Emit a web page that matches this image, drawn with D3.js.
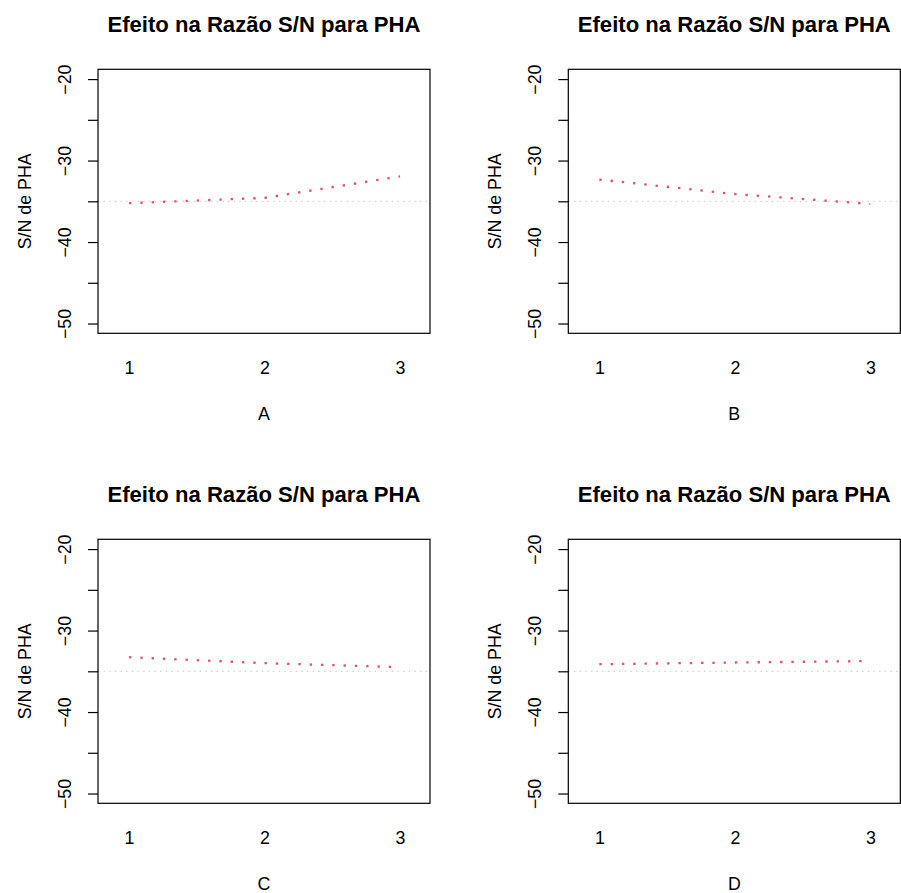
<!DOCTYPE html>
<html>
<head>
<meta charset="utf-8">
<script src="https://cdn.jsdelivr.net/npm/d3@7"></script>
<style>
  html, body { margin: 0; padding: 0; background: #fff; }
  svg { display: block; }
  text { font-family: "Liberation Sans", Arial, Helvetica, sans-serif; fill: #000; }
</style>
</head>
<body>
<svg id="chart" width="901" height="893"></svg>
<script>
// ---- data ----
const panelTitle = "Efeito na Razão S/N para PHA";
const yLabel = "S/N de PHA";
const factors = ["A", "B", "C", "D"];
const levels = [1, 2, 3];
const seriesA = [-35.23, -34.58, -31.95];
const seriesB = [-32.33, -34.11, -35.32];
const seriesC = [-33.27, -34.00, -34.49];
const seriesD = [-34.13, -33.92, -33.74];
const refLine = -35.0;
const yTicks = [-50, -45, -40, -35, -30, -25, -20];
const yTickLabels = ["-50", "", "-40", "", "-30", "", "-20"];
const ylim = [-50, -20];

const allSeries = [seriesA, seriesB, seriesC, seriesD];

// ---- layout ----
const svg = d3.select("#chart");
const panelW = 332, panelH = 264;
const originX = [98, 568.3];
const originY = [69.3, 539.3];
const yPad = (ylim[1] - ylim[0]) * 0.04;
const fs = 17.8, fsTitle = 22.1;

factors.forEach((f, i) => {
  const col = i % 2, row = Math.floor(i / 2);
  const left = originX[col], top = originY[row];
  const g = svg.append("g").attr("transform", `translate(${left},${top})`);

  const x = d3.scaleLinear().domain([0.771, 3.221]).range([0, panelW]);
  const y = d3.scaleLinear().domain([ylim[0] - yPad, ylim[1] + yPad]).range([panelH, 0]);

  // reference line
  g.append("line")
    .attr("x1", 0).attr("x2", panelW)
    .attr("y1", y(refLine)).attr("y2", y(refLine))
    .attr("stroke", "#c4c4c4").attr("stroke-width", 1)
    .attr("stroke-dasharray", "1.4 4.25");

  // series line
  const vals = allSeries[i];
  const line = d3.line().x((d, k) => x(levels[k])).y(d => y(d));
  g.append("path")
    .attr("d", line(vals))
    .attr("fill", "none")
    .attr("stroke", "#DF536B")
    .attr("stroke-width", 2.3)
    .attr("stroke-dasharray", "2.4 8.9");

  // box
  g.append("rect")
    .attr("x", 0).attr("y", 0).attr("width", panelW).attr("height", panelH)
    .attr("fill", "none").attr("stroke", "#000").attr("stroke-width", 1.2);

  // y axis
  const yAxis = d3.axisLeft(y).tickValues(yTicks).tickSize(10)
    .tickFormat((d, k) => yTickLabels[k].replace("-", "\u2212"));
  const ya = g.append("g").call(yAxis);
  ya.select(".domain").remove();
  ya.selectAll(".tick line").attr("stroke", "#000").attr("stroke-width", 1.2);
  ya.selectAll(".tick text")
    .attr("font-size", fs)
    .attr("x", null).attr("dy", null)
    .attr("text-anchor", "middle")
    .attr("transform", "translate(-27,0) rotate(-90)")
    .attr("y", 0);

  // x tick labels (no tick marks)
  const xAxis = d3.axisBottom(x).tickValues(levels).tickSize(0).tickFormat(d3.format("d"));
  const xa = g.append("g").attr("transform", `translate(0,${panelH})`).call(xAxis);
  xa.select(".domain").remove();
  xa.selectAll(".tick text").attr("font-size", fs).attr("dy", null).attr("y", 40.5);

  // x label
  g.append("text")
    .attr("x", panelW / 2).attr("y", panelH + 86.5)
    .attr("text-anchor", "middle").attr("font-size", fs)
    .text(f);

  // y label
  g.append("text")
    .attr("transform", `translate(${30.5 - left + (col ? 470.3 : 0)},${panelH / 2}) rotate(-90)`)
    .attr("text-anchor", "middle").attr("font-size", fs)
    .text(yLabel);

  // title
  g.append("text")
    .attr("x", panelW / 2).attr("y", 32 - 69.3)
    .attr("text-anchor", "middle").attr("font-size", fsTitle).attr("font-weight", "bold")
    .text(panelTitle);
});
</script>
</body>
</html>
